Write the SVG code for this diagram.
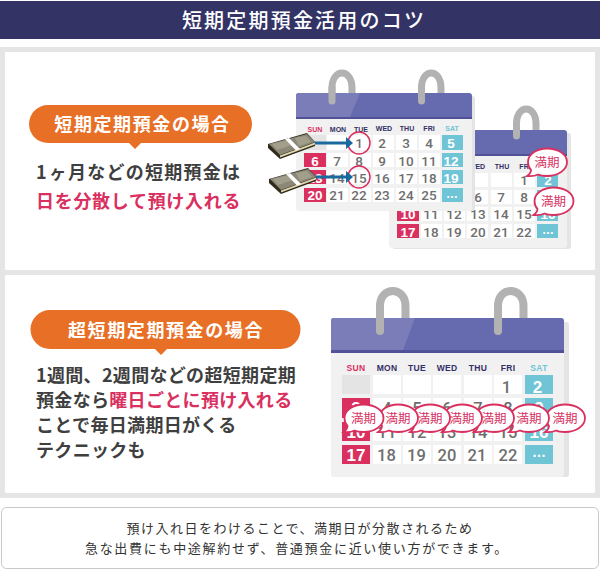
<svg xmlns="http://www.w3.org/2000/svg" width="600" height="570" viewBox="0 0 600 570">
<style>
text{font-family:"Noto Sans CJK JP","Noto Sans",sans-serif}
.h{font-weight:700;fill:#fff;text-anchor:middle;font-size:18px;letter-spacing:1.6px}
.b{font-weight:700;fill:#3f3f3f;font-size:18px;letter-spacing:.7px}
.c{letter-spacing:.32px}
.n{font-weight:400;fill:#333;font-size:13px;letter-spacing:1.5px;text-anchor:middle}
.d,.w,.s,.e{text-anchor:middle;font-weight:700}
.d{font-family:Roboto,"Liberation Sans",sans-serif;font-weight:500;fill:#6e6e6e;font-size:13.5px}
.w,.s,.e{font-family:"Liberation Sans",Arial,sans-serif}
.w{fill:#fff;font-size:13.5px}
.e{fill:#fff;font-size:12px}
.s{font-size:7px;fill:#332f66}
.l .d{font-size:16.5px}.l .w{font-size:17px}.l .e{font-size:14px}.l .s{font-size:8.5px;letter-spacing:.3px}
.cell{fill:#fff}.sun{fill:#d9305f}.sat{fill:#6fc4d6}.off{fill:#e4e4e4}
.m{font-size:12.5px;fill:#d9305f;text-anchor:middle;font-weight:400}
.bub{fill:#fff;stroke:#d9305f;stroke-width:1.8}
.ring{fill:none;stroke:#b2b2b2;stroke-linecap:round}
</style>
<defs>
<g id="money">
<path d="M0 11 L39 0 L47 9 L47 13 L12 26 L0 15Z" fill="#2f2a1c"/>
<path d="M1 11 L39 1 L47 9 L12 22Z" fill="#8c8877"/>
<path d="M4 11 L20 7 L24 12 L9 17Z M27 5 L38 3 L43 9 L31 13Z" fill="#a29e8c"/>
<path d="M12 22.500 L47 9.500 L47 11.500 L12 24.500Z" fill="#e0d6ae"/>
<path d="M17 6 L21 5 L32 16 L28 17.500Z" fill="#fff"/>
</g>
<path id="bub" class="bub" d="M-19 0 C-19 -8 -10 -13.500 0 -13.500 C11 -13.500 20 -8 20 0 C20 8 11 14 0 14 C-4 14 -7 13.500 -9 12.500 C-12 14 -16 14.500 -20 14 C-17 12 -16 10 -16 8 C-18 6 -19 3 -19 0Z"/>
</defs>
<rect width="600" height="570" fill="#fff"/>
<g id="header"><rect y="1" width="600" height="38" fill="#333366"/>
<text x="304" y="28" text-anchor="middle" fill="#fff" font-size="20" font-weight="500" letter-spacing="2.2">短期定期預金活用のコツ</text></g>
<rect y="47" width="600" height="451" fill="#e5e5e5"/>
<g id="panel-1">
<rect x="5" y="52" width="590" height="218" fill="#fff"/>
<path d="M48 105H233A19 19 0 0 1 233 143H141L135 149L129 143H48A19 19 0 0 1 48 105Z" fill="#e87026"/>
<text class="h" x="142.500" y="131">短期定期預金の場合</text>
<text class="b" x="36" y="179">1<tspan dx="2" font-size="17">ヶ</tspan><tspan dx="1" style="letter-spacing:1.25px">月などの短期預金は</tspan></text>
<text class="b" x="36" y="208" style="fill:#d9305f">日を分散して預け入れる</text>
</g>
<g id="calendar-2">
<rect x="392" y="133" width="179" height="116" rx="3" fill="#e4e4e4"/>
<path d="M536 134V124C536 104 516.500 104 516.500 124V130" class="ring" stroke-width="7"/>
<rect x="389" y="130" width="178" height="118" rx="3" fill="#f1f1f1"/>
<path d="M389 156V133a3 3 0 0 1 3-3H564a3 3 0 0 1 3 3V156Z" fill="#666aae"/>
<rect x="389" y="154" width="178" height="2" fill="#4f5297"/>
<path d="M516.500 124v12" class="ring" stroke-width="7"/>
<text class="s" x="477" y="168.500">WED</text><text class="s" x="502" y="168.500">THU</text><text class="s" x="525" y="168.500">FRI</text>
<rect class="cell" x="421" y="173" width="21" height="14"/><rect class="cell" x="444" y="173" width="21" height="14"/><rect class="cell" x="467" y="173" width="21" height="14"/><rect class="cell" x="491" y="173" width="21" height="14"/><rect class="cell" x="514" y="173" width="21" height="14"/><rect class="sat" x="537" y="173" width="21" height="14"/>
<text class="d" x="524" y="185">1</text><text class="w" x="548" y="185">2</text>
<rect class="cell" x="421" y="190" width="21" height="14"/><rect class="cell" x="444" y="190" width="21" height="14"/><rect class="cell" x="467" y="190" width="21" height="14"/><rect class="cell" x="491" y="190" width="21" height="14"/><rect class="cell" x="514" y="190" width="21" height="14"/><rect class="sat" x="537" y="190" width="21" height="14"/>
<text class="d" x="478" y="202">6</text><text class="d" x="501" y="202">7</text><text class="d" x="524" y="202">8</text><text class="w" x="548" y="202">9</text>
<rect class="sun" x="397" y="207" width="22" height="14"/><rect class="cell" x="421" y="207" width="21" height="14"/><rect class="cell" x="444" y="207" width="21" height="14"/><rect class="cell" x="467" y="207" width="21" height="14"/><rect class="cell" x="491" y="207" width="21" height="14"/><rect class="cell" x="514" y="207" width="21" height="14"/><rect class="sat" x="537" y="207" width="21" height="14"/>
<text class="w" x="408" y="219">10</text><text class="d" x="431" y="219">11</text><text class="d" x="454" y="219">12</text><text class="d" x="478" y="219">13</text><text class="d" x="501" y="219">14</text><text class="d" x="524" y="219">15</text><text class="w" x="548" y="219">16</text>
<rect class="sun" x="397" y="224" width="22" height="14"/><rect class="cell" x="421" y="224" width="21" height="14"/><rect class="cell" x="444" y="224" width="21" height="14"/><rect class="cell" x="467" y="224" width="21" height="14"/><rect class="cell" x="491" y="224" width="21" height="14"/><rect class="cell" x="514" y="224" width="21" height="14"/><rect class="sat" x="537" y="224" width="21" height="14"/>
<text class="w" x="408" y="236.500">17</text><text class="d" x="431" y="236.500">18</text><text class="d" x="454" y="236.500">19</text><text class="d" x="478" y="236.500">20</text><text class="d" x="501" y="236.500">21</text><text class="d" x="524" y="236.500">22</text><text class="e" x="548" y="233.500">…</text>
</g>
<g id="calendar-1">
<rect x="299" y="96" width="176" height="115" rx="3" fill="#e4e4e4"/>
<path d="M352 97V88C352 68 332 68 332 88V93" class="ring" stroke-width="7"/>
<path d="M441 97V88C441 68 421.500 68 421.500 88V93" class="ring" stroke-width="7"/>
<rect x="296" y="93" width="176" height="118" rx="3" fill="#f1f1f1"/>
<path d="M296 119V96a3 3 0 0 1 3-3H469a3 3 0 0 1 3 3V119Z" fill="#666aae"/>
<path d="M296 117V96a3 3 0 0 1 3-3H360L350 117Z" fill="#7b7db9"/>
<rect x="296" y="117" width="176" height="2" fill="#4f5297"/>
<path d="M332 88v13" class="ring" stroke-width="7"/><path d="M421.500 88v13" class="ring" stroke-width="7"/>
<text class="s" x="315" y="132" style="fill:#d9305f">SUN</text><text class="s" x="338" y="132">MON</text><text class="s" x="361" y="132">TUE</text><text class="s" x="384" y="131">WED</text><text class="s" x="407" y="131">THU</text><text class="s" x="429" y="131">FRI</text><text class="s" x="452" y="131" style="fill:#6fc4d6">SAT</text>
<rect class="off" x="304" y="135" width="22" height="15"/><rect class="cell" x="327" y="135" width="21" height="15"/><rect class="cell" x="350" y="135" width="21" height="15"/><rect class="cell" x="373" y="135" width="21" height="15"/><rect class="cell" x="396" y="135" width="21" height="15"/><rect class="cell" x="419" y="135" width="21" height="15"/><rect class="sat" x="442" y="135" width="21" height="15"/>
<text class="d" x="359" y="147.500">1</text><text class="d" x="382" y="147.500">2</text><text class="d" x="406" y="147.500">3</text><text class="d" x="429" y="147.500">4</text><text class="w" x="451" y="147.500">5</text>
<rect class="sun" x="304" y="153" width="22" height="14"/><rect class="cell" x="327" y="153" width="21" height="14"/><rect class="cell" x="350" y="153" width="21" height="14"/><rect class="cell" x="373" y="153" width="21" height="14"/><rect class="cell" x="396" y="153" width="21" height="14"/><rect class="cell" x="419" y="153" width="21" height="14"/><rect class="sat" x="442" y="153" width="21" height="14"/>
<text class="w" x="315" y="165.500">6</text><text class="d" x="337" y="165.500">7</text><text class="d" x="359" y="165.500">8</text><text class="d" x="382" y="165.500">9</text><text class="d" x="406" y="165.500">10</text><text class="d" x="429" y="165.500">11</text><text class="w" x="451" y="165.500">12</text>
<rect class="sun" x="304" y="170" width="22" height="14"/><rect class="cell" x="327" y="170" width="21" height="14"/><rect class="cell" x="350" y="170" width="21" height="14"/><rect class="cell" x="373" y="170" width="21" height="14"/><rect class="cell" x="396" y="170" width="21" height="14"/><rect class="cell" x="419" y="170" width="21" height="14"/><rect class="sat" x="442" y="170" width="21" height="14"/>
<text class="w" x="315" y="182.500">13</text><text class="d" x="337" y="182.500">14</text><text class="d" x="359" y="182.500">15</text><text class="d" x="382" y="182.500">16</text><text class="d" x="406" y="182.500">17</text><text class="d" x="429" y="182.500">18</text><text class="w" x="451" y="182.500">19</text>
<rect class="sun" x="304" y="188" width="22" height="14"/><rect class="cell" x="327" y="188" width="21" height="14"/><rect class="cell" x="350" y="188" width="21" height="14"/><rect class="cell" x="373" y="188" width="21" height="14"/><rect class="cell" x="396" y="188" width="21" height="14"/><rect class="cell" x="419" y="188" width="21" height="14"/><rect class="sat" x="442" y="188" width="21" height="14"/>
<text class="w" x="315" y="200">20</text><text class="d" x="337" y="200">21</text><text class="d" x="359" y="200">22</text><text class="d" x="382" y="200">23</text><text class="d" x="406" y="200">24</text><text class="d" x="429" y="200">25</text><text class="e" x="452" y="197.500">…</text>
<circle cx="359" cy="143" r="11" fill="none" stroke="#d9305f" stroke-width="1.500"/>
<circle cx="359" cy="177" r="11" fill="none" stroke="#d9305f" stroke-width="1.500"/>
</g>
<g id="connectors" fill="#19699e">
<path d="M310 141.500H346V137L353 143L346 149V144.500H310Z"/>
<path d="M310 175.500H346V171L353 177L346 183V178.500H310Z"/>
</g>
<g id="money-1"><use href="#money" x="268" y="133"/></g>
<g id="money-2"><use href="#money" x="269" y="168"/></g>
<g id="badges-1">
<g id="badge-a"><use href="#bub" transform="translate(547 162)"/><text class="m" x="547" y="166.500">満期</text></g>
<g id="badge-b"><use href="#bub" transform="translate(553.500 201)"/><text class="m" x="553.500" y="205.500">満期</text></g>
</g>
<g id="panel-2">
<rect x="5" y="275" width="590" height="218" fill="#fff"/>
<path d="M50 310H281A19.500 19.500 0 0 1 281 349H167L161 355L155 349H50A19.500 19.500 0 0 1 50 310Z" fill="#e87026"/>
<text class="h" x="166" y="337">超短期定期預金の場合</text>
<text class="b c" x="36" y="382">1週間、2週間などの超短期定期</text>
<text class="b c" x="36" y="407">預金なら<tspan style="fill:#d9305f">曜日ごとに預け入れる</tspan></text>
<text class="b c" x="36" y="432">ことで毎日満期日がくる</text>
<text class="b c" x="36" y="457">テクニックも</text>
</g>
<g id="calendar-3" class="l">
<rect x="335" y="322" width="234" height="155" rx="3" fill="#e4e4e4"/>
<path d="M405.500 322V306C405.500 286 380 286 380 306V318" class="ring" stroke-width="8"/>
<path d="M523.500 322V306C523.500 286 498 286 498 306V318" class="ring" stroke-width="8"/>
<rect x="331" y="318" width="233" height="159" rx="3" fill="#f1f1f1"/>
<path d="M331 353V321a3 3 0 0 1 3-3H561a3 3 0 0 1 3 3V353Z" fill="#666aae"/>
<path d="M331 350V321a3 3 0 0 1 3-3H415L403 350Z" fill="#7b7db9"/>
<rect x="331" y="350" width="233" height="3" fill="#4f5297"/>
<path d="M380 306v25" class="ring" stroke-width="8"/><path d="M498 306v25" class="ring" stroke-width="8"/>
<text class="s" x="356" y="370.500" style="fill:#d9305f">SUN</text><text class="s" x="387" y="370.500">MON</text><text class="s" x="417" y="370.500">TUE</text><text class="s" x="447" y="370.500">WED</text><text class="s" x="478" y="370.500">THU</text><text class="s" x="508" y="370.500">FRI</text><text class="s" x="539" y="370.500" style="fill:#6fc4d6">SAT</text>
<rect class="off" x="342" y="375" width="28" height="19"/><rect class="cell" x="373" y="375" width="28" height="19"/><rect class="cell" x="403" y="375" width="28" height="19"/><rect class="cell" x="433" y="375" width="28" height="19"/><rect class="cell" x="464" y="375" width="28" height="19"/><rect class="cell" x="494" y="375" width="28" height="19"/><rect class="sat" x="525" y="375" width="28" height="19"/>
<text class="d" x="506.500" y="392.500">1</text><text class="w" x="537.500" y="392.500">2</text>
<rect class="sun" x="342" y="398" width="28" height="20"/><rect class="cell" x="373" y="398" width="28" height="20"/><rect class="cell" x="403" y="398" width="28" height="20"/><rect class="cell" x="433" y="398" width="28" height="20"/><rect class="cell" x="464" y="398" width="28" height="20"/><rect class="cell" x="494" y="398" width="28" height="20"/><rect class="sat" x="525" y="398" width="28" height="20"/>
<text class="w" x="356" y="414">3</text><text class="d" x="387" y="414">4</text><text class="d" x="417" y="414">5</text><text class="d" x="447" y="414">6</text><text class="d" x="478" y="414">7</text><text class="d" x="508" y="414">8</text><text class="w" x="539" y="414">9</text>
<rect class="sun" x="342" y="422" width="28" height="19"/><rect class="cell" x="373" y="422" width="28" height="19"/><rect class="cell" x="403" y="422" width="28" height="19"/><rect class="cell" x="433" y="422" width="28" height="19"/><rect class="cell" x="464" y="422" width="28" height="19"/><rect class="cell" x="494" y="422" width="28" height="19"/><rect class="sat" x="525" y="422" width="28" height="19"/>
<text class="w" x="356" y="438">10</text><text class="d" x="387" y="438">11</text><text class="d" x="417" y="438">12</text><text class="d" x="447" y="438">13</text><text class="d" x="478" y="438">14</text><text class="d" x="508" y="438">15</text><text class="w" x="539" y="438">16</text>
<rect class="sun" x="342" y="445" width="28" height="19"/><rect class="cell" x="373" y="445" width="28" height="19"/><rect class="cell" x="403" y="445" width="28" height="19"/><rect class="cell" x="433" y="445" width="28" height="19"/><rect class="cell" x="464" y="445" width="28" height="19"/><rect class="cell" x="494" y="445" width="28" height="19"/><rect class="sat" x="525" y="445" width="28" height="19"/>
<text class="w" x="356" y="460.500">17</text><text class="d" x="386.500" y="460.500">18</text><text class="d" x="416.500" y="460.500">19</text><text class="d" x="447" y="460.500">20</text><text class="d" x="477" y="460.500">21</text><text class="d" x="508" y="460.500">22</text><text class="e" x="539" y="457">…</text>
</g>
<g id="badges-2">
<g id="badge-7"><use href="#bub" transform="translate(565 418)"/><text class="m" x="565" y="422.500">満期</text></g>
<g id="badge-6"><use href="#bub" transform="translate(529 418)"/><text class="m" x="529" y="422.500">満期</text></g>
<g id="badge-5"><use href="#bub" transform="translate(494 418)"/><text class="m" x="494" y="422.500">満期</text></g>
<g id="badge-4"><use href="#bub" transform="translate(462 418)"/><text class="m" x="462" y="422.500">満期</text></g>
<g id="badge-3"><use href="#bub" transform="translate(430 418)"/><text class="m" x="430" y="422.500">満期</text></g>
<g id="badge-2"><use href="#bub" transform="translate(398 418)"/><text class="m" x="398" y="422.500">満期</text></g>
<g id="badge-1"><use href="#bub" transform="translate(363.500 418)"/><text class="m" x="363.500" y="422.500">満期</text></g>
</g>
<g id="note">
<rect x="1.500" y="507.500" width="597" height="61" rx="5" fill="#fff" stroke="#c8c8c8"/>
<text class="n" x="300" y="533">預け入れ日をわけることで、満期日が分散されるため</text>
<text class="n" x="297" y="553" style="letter-spacing:1.7px">急な出費にも中途解約せず、普通預金に近い使い方ができます。</text>
</g>
</svg>
